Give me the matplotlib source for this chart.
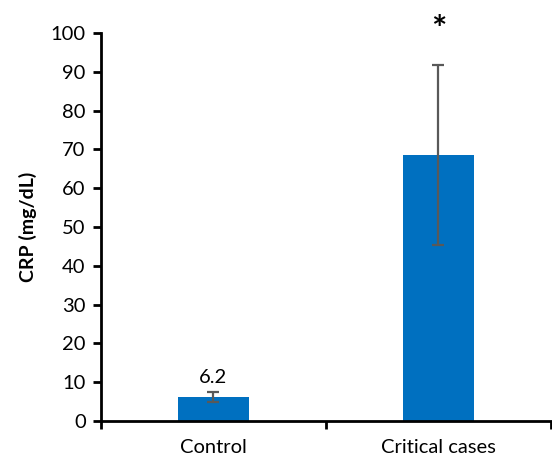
import matplotlib.pyplot as plt

# data
groups = ["Control", "Critical cases"]
means = [6.2, 68.5]
errors = [1.25, 23.2]
value_labels = ["6.2", ""]
marks = ["", "*"]

plt.rcParams['font.family'] = ['Lato', 'DejaVu Sans']

fig = plt.figure(figsize=(5.52, 4.62), dpi=100)
ax = fig.add_axes([0.183, 0.0887, 0.815, 0.84])

x = list(range(len(groups)))
ax.bar(x, means, width=0.315, color='#0070C0', zorder=2)
ax.errorbar(x, means, yerr=errors, fmt='none', ecolor='#595959',
            elinewidth=1.6, capsize=4.5, capthick=1.6, zorder=3)

for i in x:
    if value_labels[i]:
        ax.text(i, means[i] + errors[i] + 1.6, value_labels[i], ha='center',
                va='bottom', fontsize=14.5)
    if marks[i]:
        ax.text(i, means[i] + errors[i] + 4.8, marks[i], ha='center',
                va='bottom', fontsize=26, fontweight='bold', clip_on=False)

ax.set_xlim(-0.5, 1.5)
ax.set_ylim(0, 100)
ax.set_yticks(range(0, 101, 10))
ax.set_xticks(x)
ax.set_xticklabels(groups)
ax.set_xticks([-0.5, 0.5, 1.5], minor=True)
ax.tick_params(axis='x', which='major', length=0, pad=13, labelsize=14.5)
ax.tick_params(axis='x', which='minor', length=6, width=2.0, direction='out')
ax.tick_params(axis='y', length=6, width=2.0, labelsize=14.5, pad=5)
ax.set_ylabel('CRP (mg/dL)', fontsize=14, fontweight='bold', labelpad=10)

for side in ['top', 'right']:
    ax.spines[side].set_visible(False)
for side in ['left', 'bottom']:
    ax.spines[side].set_linewidth(2.0)

fig.savefig('out.png', dpi=100)
